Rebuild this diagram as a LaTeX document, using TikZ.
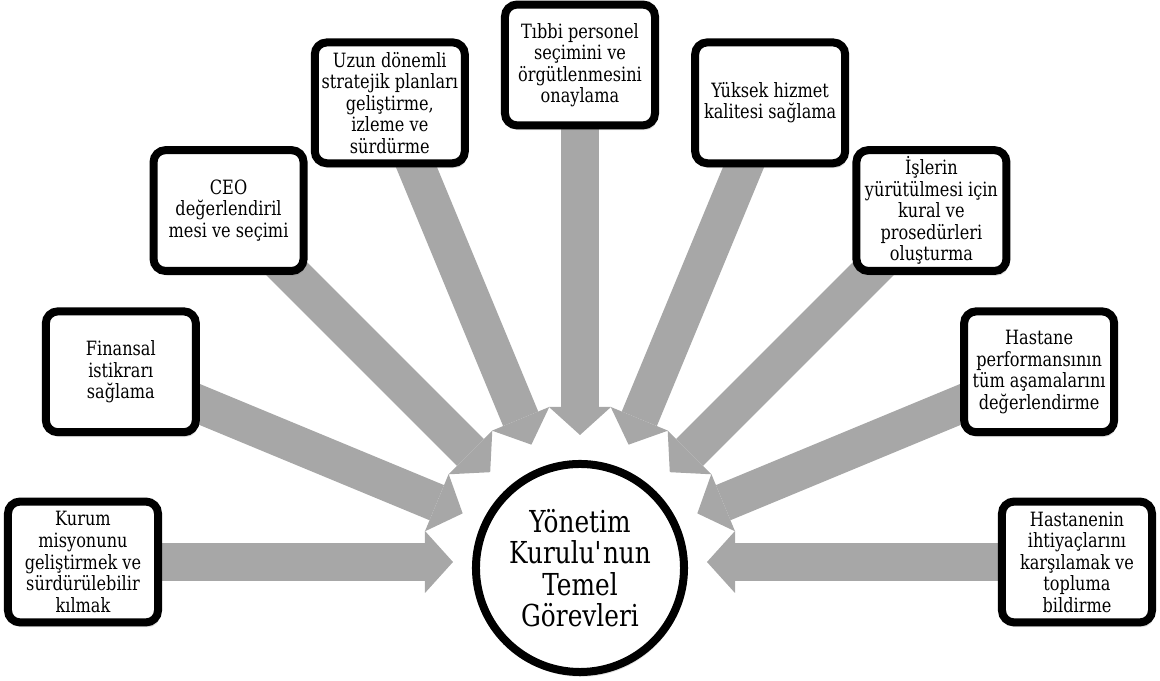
\documentclass[tikz,border=0pt]{standalone}
\usepackage{fontspec}
\setmainfont{DejaVu Serif}[FakeStretch=0.82]
\usetikzlibrary{arrows.meta,shadows,backgrounds,positioning}
\definecolor{arrowgray}{RGB}{167,167,167}

\begin{document}
\begin{tikzpicture}[x=0.025cm,y=0.025cm,
    gorev/.style={draw,fill=white,line width=0.2cm,rounded corners=0.3cm,
      minimum width=3.75cm,minimum height=3.02cm,inner sep=1pt,align=center,
      font=\fontsize{14}{15.3}\selectfont,
      drop shadow={shadow xshift=0.05cm,shadow yshift=-0.12cm,opacity=0.25}},
    kurul/.style={draw,fill=white,circle,line width=0.2cm,minimum size=5.2cm,
      inner sep=0pt,align=center,font=\fontsize{21.5}{22.3}\selectfont,
      drop shadow={shadow xshift=0.04cm,shadow yshift=-0.12cm,opacity=0.25}},
    akis/.style={draw=arrowgray,line width=0.95cm,
      -{Triangle[length=0.7cm,width=1.55cm,line width=0pt]}}]
      \useasboundingbox (-580,-119) rectangle (580,562);

      % merkez
      \node[kurul] (hub) at (0,-6) {Yönetim\\Kurulu\textquotesingle nun\\Temel\\Görevleri};

      % dokuz görev
      \node[gorev] (g1) at (180:497) {Kurum\\misyonunu\\geliştirmek ve\\sürdürülebilir\\kılmak};
      \node[gorev] (g2) at (157.5:497) {Finansal\\istikrarı\\sağlama};
      \node[gorev] (g3) at (135:497) {CEO\\değerlendiril\\mesi ve seçimi};
      \node[gorev] (g4) at (112.5:497) {Uzun dönemli\\stratejik planları\\geliştirme,\\izleme ve\\sürdürme};
      \node[gorev] (g5) at (90:497) {Tıbbi personel\\seçimini ve\\örgütlenmesini\\onaylama};
      \node[gorev] (g6) at (67.5:497) {Yüksek hizmet\\kalitesi sağlama};
      \node[gorev] (g7) at (45:497) {İşlerin\\yürütülmesi için\\kural ve\\prosedürleri\\oluşturma};
      \node[gorev] (g8) at (22.5:497) {Hastane\\performansının\\tüm aşamalarını\\değerlendirme};
      \node[gorev] (g9) at (0:497) {Hastanenin\\ihtiyaçlarını\\karşılamak ve\\topluma\\bildirme};

      % ok uçları
      \coordinate (p1) at (180:127);
      \coordinate (p2) at (157.5:127);
      \coordinate (p3) at (135:127);
      \coordinate (p4) at (112.5:127);
      \coordinate (p5) at (90:127);
      \coordinate (p6) at (67.5:127);
      \coordinate (p7) at (45:127);
      \coordinate (p8) at (22.5:127);
      \coordinate (p9) at (0:127);

      \begin{pgfonlayer}{background}
      \draw[akis] (g1.center) -- (p1);
      \draw[akis] (g2.center) -- (p2);
      \draw[akis] (g3.center) -- (p3);
      \draw[akis] (g4.center) -- (p4);
      \draw[akis] (g5.center) -- (p5);
      \draw[akis] (g6.center) -- (p6);
      \draw[akis] (g7.center) -- (p7);
      \draw[akis] (g8.center) -- (p8);
      \draw[akis] (g9.center) -- (p9);
      \end{pgfonlayer}
    \end{tikzpicture}
\end{document}
